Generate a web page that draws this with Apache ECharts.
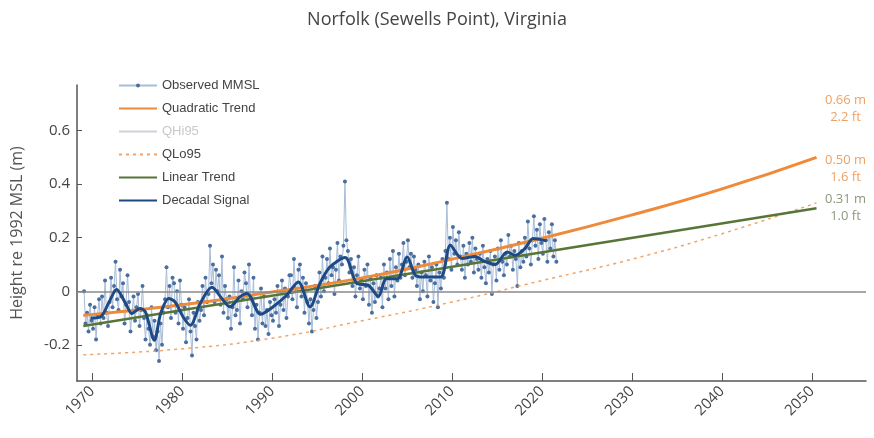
<!DOCTYPE html>
<html>
<head>
<meta charset="utf-8">
<script src="https://cdn.jsdelivr.net/npm/echarts@6/dist/echarts.min.js"></script>
<style>
  html, body { margin: 0; padding: 0; background: #fff; }
  #main { width: 874px; height: 438px; }
</style>
</head>
<body>
<div id="main"></div>
<script>
// observed monthly mean sea level (6 samples per year, 1969-2021)
var obsStartYear = 1969;
var obsPerYear = 6;
var obsValues = [
  0.00, -0.12, -0.08, -0.15, -0.05, -0.11,
  -0.14, -0.06, -0.18, -0.09, -0.03, -0.12,
  -0.02, -0.10, 0.04, -0.08, -0.13, -0.04,
  0.05, -0.06, 0.02, 0.11, -0.03, -0.07,
  0.08, -0.02, 0.03, -0.12, -0.05, 0.06,
  -0.04, -0.15, -0.08, -0.02, -0.11, -0.06,
  -0.01, -0.13, -0.07, 0.02, -0.10, -0.18,
  -0.09, -0.14, -0.20, -0.06, -0.17, -0.11,
  -0.22, -0.15, -0.26, -0.12, -0.20, -0.08,
  -0.03, 0.09, -0.06, 0.02, -0.10, 0.05,
  0.03, -0.08, 0.00, -0.12, 0.04, -0.05,
  -0.14, -0.06, -0.19, -0.10, -0.03, -0.15,
  -0.24, -0.08, -0.13, -0.18, -0.04, -0.11,
  -0.07, 0.02, -0.09, 0.05, -0.04, -0.01,
  0.17, 0.03, 0.10, -0.04, 0.08, 0.00,
  0.06, -0.05, 0.13, -0.08, 0.02, -0.03,
  -0.10, -0.02, -0.14, -0.06, 0.09, -0.09,
  -0.07, 0.04, -0.12, 0.00, -0.03, 0.07,
  0.03, -0.06, 0.10, -0.02, -0.09, 0.05,
  -0.14, -0.05, -0.18, -0.08, 0.01, -0.12,
  -0.02, -0.13, -0.07, -0.16, -0.04, -0.09,
  -0.11, -0.03, -0.08, 0.02, -0.13, -0.05,
  0.04, -0.07, 0.01, -0.10, -0.02, 0.06,
  0.06, -0.03, 0.12, 0.01, -0.06, 0.08,
  0.10, -0.02, 0.05, -0.08, 0.03, -0.04,
  -0.12, -0.03, -0.15, -0.07, 0.02, -0.10,
  -0.04, 0.07, -0.02, 0.13, 0.00, 0.05,
  0.12, 0.03, 0.16, 0.06, 0.09, -0.01,
  0.08, 0.18, 0.04, 0.13, 0.10, 0.17,
  0.41, 0.19, 0.15, 0.07, 0.12, 0.02,
  0.09, -0.02, 0.06, 0.13, 0.01, 0.04,
  -0.03, 0.08, 0.02, 0.10, -0.05, 0.05,
  -0.08, 0.03, -0.04, 0.06, -0.02, 0.01,
  0.05, -0.06, 0.10, 0.01, 0.07, -0.03,
  0.12, 0.02, 0.15, -0.02, 0.09, 0.04,
  0.14, 0.05, 0.10, 0.18, 0.06, 0.11,
  0.19, 0.09, 0.14, 0.05, 0.13, 0.08,
  0.02, 0.10, -0.03, 0.07, 0.00, 0.11,
  0.06, -0.02, 0.13, 0.04, 0.09, -0.04,
  0.03, 0.10, -0.06, 0.07, 0.01, 0.12,
  0.05, 0.15, 0.33, 0.12, 0.20, 0.08,
  0.24, 0.14, 0.19, 0.10, 0.22, 0.13,
  0.08, 0.17, 0.05, 0.14, 0.10, 0.18,
  0.11, 0.20, 0.07, 0.16, 0.12, 0.08,
  0.14, 0.05, 0.17, 0.09, 0.03, 0.12,
  0.07, 0.15, -0.01, 0.10, 0.13, 0.04,
  0.16, 0.08, 0.19, 0.11, 0.06, 0.14,
  0.10, 0.21, 0.13, 0.17, 0.08, 0.15,
  0.12, 0.02, 0.18, 0.09, 0.15, 0.11,
  0.20, 0.13, 0.26, 0.16, 0.10, 0.19,
  0.28, 0.17, 0.23, 0.12, 0.25, 0.18,
  0.14, 0.27, 0.19, 0.11, 0.22, 0.16,
  0.25, 0.13, 0.19, 0.11
];

// decadal signal
var decYears = [1969.8, 1970.9, 1971.8, 1972.7, 1973.7, 1974.4, 1975.3, 1975.9, 1976.9, 1977.6,
  1978.5, 1979.2, 1980.1, 1980.9, 1982.0, 1983.3, 1984.4, 1985.3, 1986.4, 1987.2,
  1988.7, 1990.1, 1991.6, 1992.9, 1994.2, 1995.3, 1996.4, 1998.1, 1999.4, 2000.7,
  2001.8, 2002.7, 2003.9, 2005.0, 2005.9, 2006.8, 2008.7, 2009.8, 2011.1, 2012.6,
  2013.5, 2014.8, 2016.1, 2017.0, 2018.1, 2019.0, 2020.5];
var decValues = [-0.100, -0.096, -0.045, 0.007, -0.045, -0.083, -0.064, -0.077, -0.183, -0.083,
  -0.027, -0.040, -0.096, -0.127, -0.045, 0.015, -0.027, -0.058, -0.021, -0.008,
  -0.086, -0.058, -0.015, 0.035, -0.058, 0.029, 0.090, 0.126, 0.029, 0.022,
  -0.019, 0.047, 0.047, 0.128, 0.060, 0.053, 0.053, 0.172, 0.122, 0.130,
  0.113, 0.100, 0.147, 0.134, 0.160, 0.197, 0.188];

// trends and bounds
var trendYears = [1969, 1980, 1990, 2000, 2010, 2020, 2030, 2040, 2050.5];
var quadValues = [-0.090, -0.050, -0.003, 0.050, 0.120, 0.198, 0.285, 0.382, 0.500];
var qLoValues  = [-0.237, -0.215, -0.175, -0.110, -0.040, 0.040, 0.120, 0.215, 0.330];
var qHiValues  = [0.057, 0.115, 0.169, 0.218, 0.282, 0.356, 0.450, 0.549, 0.660];
var linYears = [1969, 2050.5];
var linValues = [-0.130, 0.310];

// 2050 projections printed on the right
var projYear = 2050.5;
var projValues = [0.66, 0.50, 0.31];
var projLabels = ['0.66 m\n2.2 ft', '0.50 m\n1.6 ft', '0.31 m\n1.0 ft'];

var seriesNames = ['Observed MMSL', 'Quadratic Trend', 'QHi95', 'QLo95', 'Linear Trend', 'Decadal Signal'];
var xTicks = [1970, 1980, 1990, 2000, 2010, 2020, 2030, 2040, 2050];
var yTicks = [-0.2, 0, 0.2, 0.4, 0.6];

function pairs(xs, ys) {
  return ys.map(function (v, i) { return [xs[i], v]; });
}
var obsData = obsValues.map(function (v, i) {
  return [obsStartYear + (i + 0.5) / obsPerYear, v];
});

var projColors = ['#ea8a3e', '#ea8a3e', '#6e7d5e'];
var projOffsets = [[0, -6], [0, 11], [0, 0]];

// only the observed series keeps its dot in the legend
var legendData = seriesNames.map(function (n, i) {
  return i === 0 ? { name: n } : { name: n, itemStyle: { opacity: 0 } };
});

var chart = echarts.init(document.getElementById('main'));
chart.setOption({
  backgroundColor: '#fff',
  animation: false,
  title: {
    text: 'Norfolk (Sewells Point), Virginia',
    left: 'center',
    top: 6,
    textStyle: { fontFamily: 'Open Sans', fontSize: 18, fontWeight: 'normal', color: '#444' }
  },
  legend: {
    orient: 'vertical',
    left: 113,
    top: 73,
    itemWidth: 38,
    itemHeight: 5,
    itemGap: 8,
    inactiveColor: '#c8c8c8',
    textStyle: { fontFamily: 'Liberation Sans', fontSize: 13, color: '#444', lineHeight: 15 },
    data: legendData,
    selected: { 'QHi95': false }
  },
  grid: { left: 77, right: 8, top: 85, bottom: 57 },
  xAxis: {
    type: 'value',
    min: 1968.3,
    max: 2056,
    axisLine: { onZero: false, lineStyle: { color: '#555', width: 1.5 } },
    axisTick: { inside: true, length: 8, customValues: xTicks, lineStyle: { color: '#555' } },
    axisLabel: {
      customValues: xTicks, rotate: 45, margin: 8,
      fontFamily: 'Open Sans', fontSize: 15, color: '#444',
      formatter: function (v) { return String(v); }
    },
    splitLine: { show: false }
  },
  yAxis: {
    type: 'value',
    min: -0.335,
    max: 0.77,
    name: 'Height re 1992 MSL (m)',
    nameLocation: 'middle',
    nameGap: 52,
    nameTextStyle: { fontFamily: 'Open Sans', fontSize: 16, color: '#555' },
    axisLine: { show: true, lineStyle: { color: '#555', width: 1.5 } },
    axisTick: { show: true, inside: true, length: 5, customValues: yTicks, lineStyle: { color: '#555' } },
    axisLabel: {
      customValues: yTicks, margin: 7,
      fontFamily: 'Open Sans', fontSize: 15, color: '#444',
      formatter: function (v) { return Math.abs(v) < 1e-9 ? '0' : v.toFixed(1); }
    },
    splitLine: { show: false }
  },
  series: [
    {
      name: seriesNames[0],
      type: 'line',
      data: obsData,
      symbol: 'circle',
      symbolSize: 4,
      itemStyle: { color: '#4a6f9f' },
      lineStyle: { color: '#a8bcd8', width: 1 },
      z: 2,
      markLine: {
        silent: true,
        symbol: 'none',
        label: { show: false },
        lineStyle: { color: '#8a8a8a', width: 1.5, type: 'solid' },
        data: [{ yAxis: 0 }]
      }
    },
    {
      name: seriesNames[1],
      type: 'line',
      data: pairs(trendYears, quadValues),
      smooth: true,
      symbol: 'none',
      itemStyle: { color: '#ee8a3a' },
      lineStyle: { color: '#ee8a3a', width: 3 },
      z: 4
    },
    {
      name: seriesNames[2],
      type: 'line',
      data: pairs(trendYears, qHiValues),
      smooth: true,
      symbol: 'none',
      itemStyle: { color: '#f6c7a2' },
      lineStyle: { color: '#f6c7a2', width: 1.5, type: 'dotted' }
    },
    {
      name: seriesNames[3],
      type: 'line',
      data: pairs(trendYears, qLoValues),
      smooth: true,
      symbol: 'none',
      itemStyle: { color: '#f2a468' },
      lineStyle: { color: '#f2a468', width: 1.5, type: [3, 4] },
      z: 3
    },
    {
      name: seriesNames[4],
      type: 'line',
      data: pairs(linYears, linValues),
      symbol: 'none',
      itemStyle: { color: '#587538' },
      lineStyle: { color: '#587538', width: 2.5 },
      z: 4
    },
    {
      name: seriesNames[5],
      type: 'line',
      data: pairs(decYears, decValues),
      smooth: 0.3,
      symbol: 'none',
      itemStyle: { color: '#1d4a84' },
      lineStyle: { color: '#1d4a84', width: 3 },
      z: 5
    },
    {
      name: 'proj',
      type: 'scatter',
      symbolSize: 0,
      silent: true,
      data: projValues.map(function (v, i) {
        return {
          value: [projYear, v],
          label: {
            show: true,
            position: 'right',
            distance: 29,
            align: 'center',
            offset: projOffsets[i],
            formatter: projLabels[i],
            fontFamily: 'Open Sans',
            fontSize: 13,
            lineHeight: 17,
            color: projColors[i]
          }
        };
      })
    }
  ]
});
</script>
</body>
</html>
